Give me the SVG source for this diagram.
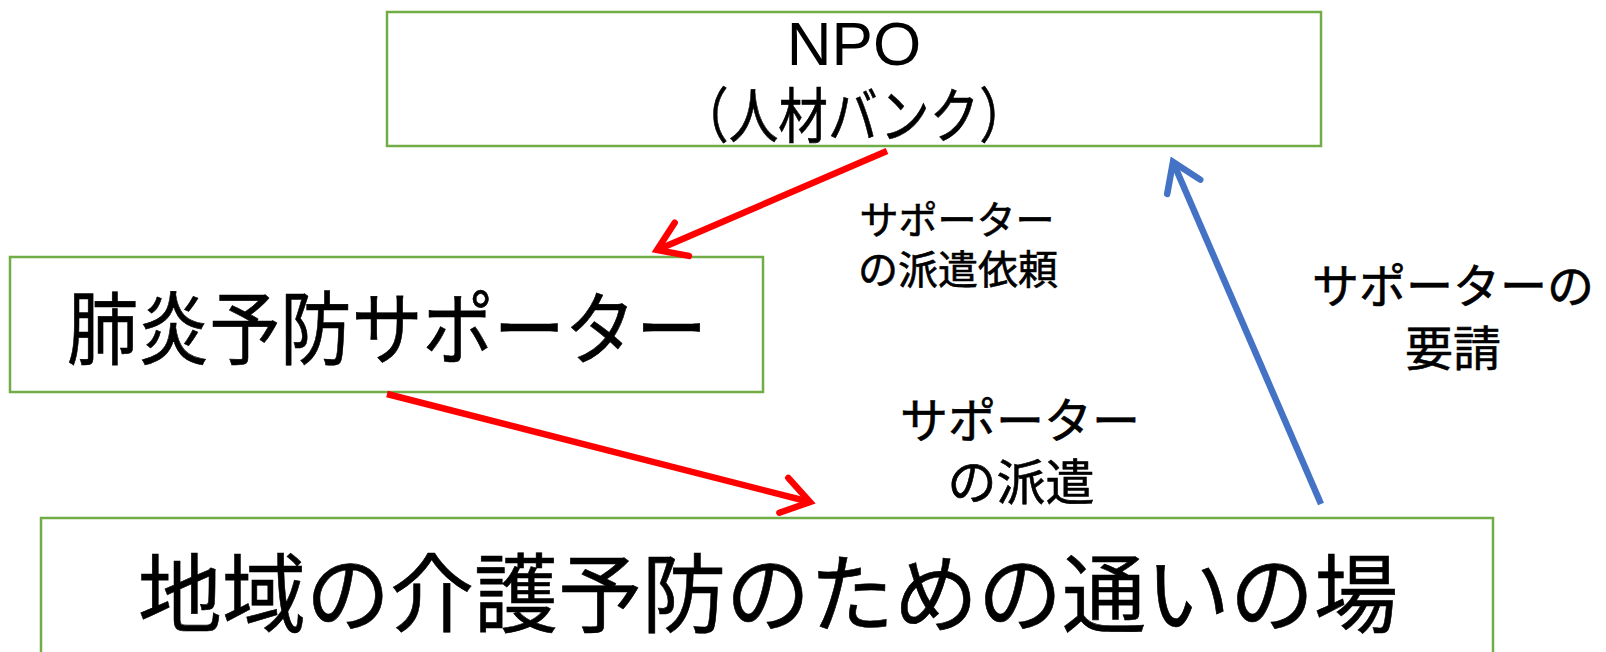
<svg xmlns="http://www.w3.org/2000/svg" width="1606" height="652" viewBox="0 0 1606 652">
<style>
.box{fill:#fff;stroke:#70AD47;stroke-width:2.5}
.t{font-family:"Noto Sans CJK JP","Noto Sans CJK SC",sans-serif;fill:#000;text-anchor:middle;stroke:#000;stroke-width:0.6}
.en{font-family:"Liberation Sans",Arial,sans-serif;fill:#000;text-anchor:middle}
.red{stroke:#FF0000;stroke-width:6.5;fill:none}
.blue{stroke:#4472C4;stroke-width:6.5;fill:none}
</style>
<defs>
<marker id="ar" viewBox="-36 -24 42 48" markerWidth="42" markerHeight="48" refX="0" refY="0" orient="auto" markerUnits="userSpaceOnUse">
<path d="M-27,-18 L0,0 L-27,18" fill="none" stroke="#FF0000" stroke-width="6.5" stroke-linecap="round" stroke-linejoin="miter"/>
</marker>
<marker id="ab" viewBox="-36 -24 42 48" markerWidth="42" markerHeight="48" refX="0" refY="0" orient="auto" markerUnits="userSpaceOnUse">
<path d="M-27,-18 L0,0 L-27,18" fill="none" stroke="#4472C4" stroke-width="6.5" stroke-linecap="round" stroke-linejoin="miter"/>
</marker>
</defs>
<rect width="1606" height="652" fill="#fff"/>
<g id="npo">
<rect class="box" x="387" y="12" width="934" height="134"/>
<text class="en" x="854" y="65" font-size="62">NPO</text>
<text class="t" x="854" y="138" font-size="60" textLength="350" lengthAdjust="spacingAndGlyphs">（人材バンク）</text>
</g>
<g id="supporter">
<rect class="box" x="10" y="257" width="753" height="135"/>
<text class="t" x="387" y="358" font-size="80" textLength="640" lengthAdjust="spacingAndGlyphs">肺炎予防サポーター</text>
</g>
<g id="place">
<rect class="box" x="41" y="518" width="1452" height="150"/>
<text class="t" x="768" y="626" font-size="86" textLength="1260" lengthAdjust="spacingAndGlyphs">地域の介護予防のための通いの場</text>
</g>
<g id="connectors">
<line class="red" x1="887" y1="151" x2="657" y2="250" marker-end="url(#ar)"/>
<line class="red" x1="387" y1="394" x2="810" y2="502" marker-end="url(#ar)"/>
<line class="blue" x1="1321" y1="504" x2="1173" y2="162" marker-end="url(#ab)"/>
</g>
<g id="labels">
<text class="t" x="957" y="234" font-size="39">サポーター</text>
<text class="t" x="958" y="284" font-size="40">の派遣依頼</text>
<text class="t" x="1020" y="438" font-size="48">サポーター</text>
<text class="t" x="1021" y="500" font-size="49">の派遣</text>
<text class="t" x="1453" y="303" font-size="47">サポーターの</text>
<text class="t" x="1453" y="366" font-size="48">要請</text>
</g>
</svg>
